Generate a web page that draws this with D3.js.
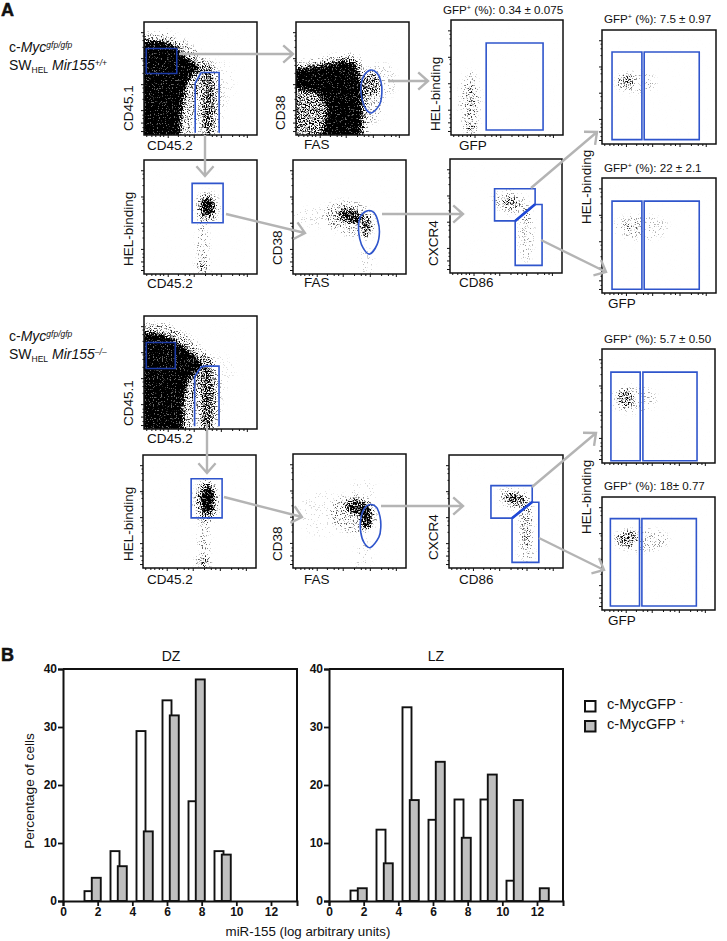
<!DOCTYPE html>
<html><head><meta charset="utf-8">
<script src="https://cdn.jsdelivr.net/npm/d3@7"></script>
<style>
html,body{margin:0;padding:0;background:#fff}
svg{display:block}
text{font-family:"Liberation Sans",Arial,sans-serif;fill:#111}
</style></head><body>
<svg id="c" width="727" height="941"></svg>
<script>
/* ---------- Panel B data ---------- */
const bins = [1.5,3,4.5,6,7.5,9,10.5,12];
const dzNegative = [1.7,8.6,29.3,34.6,17.2,8.6,0,0];
const dzPositive = [4,6,12,32,38.2,8,0,0];
const lzNegative = [1.8,12.3,33.4,14,17.5,17.5,3.5,0];
const lzPositive = [2.2,6.5,17.4,24,10.9,21.8,17.4,2.2];
const xTickValues = [0,2,4,6,8,10,12];
const yTickValues = [0,10,20,30,40];
const legendLabels = ["c-MycGFP","c-MycGFP"];

/* ---------- Flow panels: estimated density regions, axis units 0-100 ---------- */
/* polygons: [density, [x,y]...] */
const massA1 = [
 [.3,[0,0],[41,0],[45,30],[52,47],[62,60],[52,70],[38,82],[22,90],[0,90]],
 [1,[0,0],[31,0],[34,25],[37,42],[42,53],[51,58],[44,64],[34,72],[29,78],[18,83],[0,84]]];
const massA3 = [
 [.5,[0,0],[25,0],[28,25],[18,40],[0,44]],
 [.32,[0,56],[0,63],[30,69],[45,72],[56,69],[63,50],[64,20],[63,0],[55,0],[55,50],[40,60]],
 [1,[22,0],[28,25],[18,38],[0,42],[0,58],[12,60],[30,63],[42,66],[52,64],[57,50],[58,30],[58,0]]];
const massC1 = [
 [.32,[0,0],[42,0],[44,24],[50,42],[62,58],[54,68],[40,82],[20,93],[0,93]],
 [1,[0,0],[34,0],[35,24],[38,40],[45,50],[52,55],[45,65],[35,73],[26,80],[10,85],[0,85]]];
/* ellipses: [cx,cy,rx,ry,rot,density] */
const cloudA1 = [[57,27,6,32,0,.5],[56,28,13,38,0,.2],[66,45,14,22,0,.05]];
const cloudA2 = [[56,59,6,8,0,.85],[56,58,10,14,0,.33],[52,25,5,22,0,.22],[52,6,6,8,0,.26]];
const cloudA3 = [[67,44,6,10,0,.38],[67,34,11,24,0,.16],[74,48,15,16,0,.1]];
const cloudA4 = [[51,51,11,6,14,.7],[65,41,5,10,0,.5],[50,49,23,15,14,.22],[28,50,30,9,0,.07],[65,8,6,16,0,.09]];
const cloudA5 = [[18,30,5,16,0,.22],[18,7,6,5,0,.3],[17,28,9,28,0,.18]];
const cloudA6 = [[53,62,10,5,12,.34],[54,62,16,10,12,.16],[68,34,7,24,0,.15],[68,50,4,8,0,.15]];
const cloudA7 = [[21,55,7,6,0,.36],[30,54,18,9,0,.14]];
const cloudA8 = [[26,58,8,7,0,.17],[34,57,24,11,0,.12]];
const cloudC1 = [[56,26,6,32,0,.55],[55,28,13,38,0,.22],[66,50,14,16,0,.05]];
const cloudC2 = [[57,60,6,13,0,.9],[56,59,11,19,0,.35],[54,22,5,24,0,.23],[53,5,7,6,0,.26]];
const cloudC3 = [[56,53,10,7,14,.68],[65,45,5,11,0,.8],[54,47,21,17,14,.23],[62,66,12,12,0,.06],[62,8,7,20,0,.09],[25,48,20,20,0,.06]];
const cloudC4 = [[58,61,10,5,15,.5],[58,61,16,9,15,.18],[68,38,6,18,0,.3],[68,16,7,11,0,.18]];
const cloudC5 = [[21,57,7,8,0,.42],[28,56,20,12,0,.14]];
const cloudC6 = [[22,63,9,7,0,.4],[35,62,24,10,0,.17]];

/* ---------- Flow panels: gates, axis units 0-100 ---------- */
const rect = (a,b,c,d)=>[[a,c],[b,c],[b,d],[a,d]];
const gatesA1 = [rect(2,29,76.5,54.4)];
const gateTailA1 = [[45.3,2],[45.3,46],[50.6,55.3],[66.5,55.3],[66.5,2]];
const gatesA2 = [rect(42.6,70,79.5,45)];
const ovalA3 = [[65.7,57.4],[71.6,55],[75.1,47.6],[76,37.4],[74,27],[67.2,19.7],[62.1,22.6],[58.3,32.4],[57.4,43.2],[59.8,52]];
const ovalA4 = [[66,55.5],[71.5,54],[75,47],[76.5,37],[74.5,26],[68,17.5],[62.5,22],[59,31],[58,42],[60,51]];
const gatesA5 = [rect(31.4,82.2,80,4.3)];
const gatesA6 = [[[39.8,73.9],[76,73.9],[76,60.4],[58.2,45.7],[39.8,45.7]],[[58.2,45.7],[76,60.1],[82.2,60.1],[82.2,6.7],[58.2,6.7]]];
const dividerA6 = [[58.2,45.7],[76,60.2]];
const gatesA7 = [rect(8.8,35,80.7,3.8),rect(37,85.3,80.7,3.8)];
const gatesA8 = [rect(8.8,35,79.9,3.2),rect(37,85.3,79.9,3.2)];
const gatesC1 = [rect(2,27.7,76.5,53.5)];
const gateTailC1 = [[44.8,2.4],[44.8,46.2],[50.7,55],[54,55.6],[66.4,55.6],[66.4,2.4]];
const gatesC2 = [rect(42.6,70,79,44.4)];
const ovalC3 = [[68.6,55.7],[74,53],[77,45],[77.7,36],[76,27],[68.6,17.9],[63,22],[60,31],[59.8,42],[63,52]];
const gatesC4 = [[[36.8,72.9],[73,72.9],[73,58.8],[55.3,44.1],[36.8,44.1]],[[55.3,44.1],[73,58.2],[78.8,58.2],[78.8,5],[55.3,5]]];
const dividerC4 = [[55.3,44.1],[73,58.5]];
const gatesC5 = [rect(7.9,33.8,79.7,2),rect(36.2,84.1,79.7,2)];
const gatesC6 = [rect(7.4,33.2,80.9,3.5),rect(35.3,83.5,80.9,3.5)];

/* ---------- Flow axis ticks (transformed scale, axis units) ---------- */
const flowXMajor = [21,44,68,91];
const flowXMinor = [2,6.5,10,14,17,30,36,40,54,60,64,78,84,88];
const flowYMajor = [3.5,11,22,45,68,91];
const flowYMinor = [7,15,18,32,38,42,55,62,66,78,84,88];

/* ---------- Text ---------- */
const gfpHeaders = ["(%): 0.34 ± 0.075","(%): 7.5 ± 0.97","(%): 22 ± 2.1","(%): 5.7 ± 0.50","(%): 18± 0.77"];

/* ---------- Layout ---------- */
const panels = [
 {x:144,y:22,w:113,h:113,m:massA1,c:cloudA1,g:gatesA1,g2:[gateTailA1],gc:"#1c3ba8"},
 {x:144,y:160,w:113,h:114,c:cloudA2,g:gatesA2},
 {x:296,y:22,w:113,h:113,m:massA3,c:cloudA3,o:ovalA3},
 {x:293,y:160,w:113,h:114,c:cloudA4,o:ovalA4},
 {x:451,y:20,w:112,h:115,c:cloudA5,g:gatesA5},
 {x:450,y:159,w:112,h:114,c:cloudA6,g:gatesA6,d:dividerA6},
 {x:602,y:30,w:114,h:114,c:cloudA7,g:gatesA7},
 {x:602,y:178,w:114,h:115,c:cloudA8,g:gatesA8},
 {x:144,y:316,w:113,h:113,m:massC1,c:cloudC1,g:gatesC1,g2:[gateTailC1],gc:"#1c3ba8"},
 {x:143,y:455,w:113,h:113,c:cloudC2,g:gatesC2},
 {x:293,y:454,w:113,h:114,c:cloudC3,o:ovalC3},
 {x:449,y:455,w:114,h:113,c:cloudC4,g:gatesC4,d:dividerC4},
 {x:602,y:349,w:113,h:114,c:cloudC5,g:gatesC5},
 {x:602,y:497,w:113,h:113,c:cloudC6,g:gatesC6}
];
const arrows = [
 [179,54,293,54],[205,135,205,176],[226,214,305,233],[388,81,428,81],[382,214,463,214],[531,188,597,132],[541,240,606,272],
 [207,424,207,473],[224,497,302,517],[381,506,463,506],[532,487,596,433],[539,538,604,570]
];
const xLabels = [["CD45.2",147,150],["CD45.2",147,288],["FAS",304,149],["FAS",304,287],["GFP",459,150],["CD86",459,287],["GFP",608,308],
 ["CD45.2",147,443],["CD45.2",147,584],["FAS",304,584],["CD86",459,584],["GFP",608,625]];
const yLabels = [["CD45.1",132.5,131],["HEL-binding",132.5,266],["CD38",284.5,130],["CD38",282,265],["HEL-binding",440,131],["CXCR4",438,266],["HEL-binding",591,224],
 ["CD45.1",132.5,426],["HEL-binding",132.5,561],["CD38",282,561],["CXCR4",438,560],["HEL-binding",591,534]];
const headerPos = [[443,14],[604,23],[604,172],[604,343],[604,490]];

const svg = d3.select("#c");
const defs = svg.append("defs");
const BLUE = "#2f55cc";

/* speckle texture: a rendering filter that turns each cloud's blurred alpha into grain */
function speckle(id,p,seed){
  const f = defs.append("filter").attr("id",id).attr("filterUnits","userSpaceOnUse")
    .attr("x",p.x).attr("y",p.y).attr("width",p.w).attr("height",p.h)
    .attr("color-interpolation-filters","sRGB");
  f.append("feGaussianBlur").attr("in","SourceAlpha").attr("stdDeviation",2.2).attr("result","b");
  f.append("feTurbulence").attr("type","fractalNoise").attr("baseFrequency",0.77).attr("numOctaves",3).attr("seed",seed).attr("result","t");
  f.append("feColorMatrix").attr("in","t").attr("type","matrix").attr("values","0 0 0 0 0  0 0 0 0 0  0 0 0 0 0  2.6 0 0 0 -0.8").attr("result","n");
  f.append("feComposite").attr("in","b").attr("in2","n").attr("operator","arithmetic").attr("k1",0).attr("k2",1.3).attr("k3",1).attr("k4",-1).attr("result","m");
  const ct = f.append("feComponentTransfer").attr("in","m").attr("result","h");
  ct.append("feFuncA").attr("type","linear").attr("slope",2).attr("intercept",0);
  f.append("feFlood").attr("flood-color","#000").attr("result","k");
  f.append("feComposite").attr("in","k").attr("in2","h").attr("operator","in").attr("result","s");
  f.append("feGaussianBlur").attr("in","s").attr("stdDeviation",0.35);
}

panels.forEach((p,i)=>{
  const sx = d3.scaleLinear().domain([0,100]).range([p.x,p.x+p.w]);
  const sy = d3.scaleLinear().domain([0,100]).range([p.y+p.h,p.y]);
  const rx = d3.scaleLinear().domain([0,100]).range([0,p.w]);
  const ry = d3.scaleLinear().domain([0,100]).range([0,p.h]);
  const id = "sp"+i;
  speckle(id,p,i+3);
  const cid = "cl"+i;
  defs.append("clipPath").attr("id",cid).append("rect").attr("x",p.x).attr("y",p.y).attr("width",p.w).attr("height",p.h);

  const line = d3.line().x(d=>sx(d[0])).y(d=>sy(d[1]));
  const wrap = svg.append("g").attr("clip-path",`url(#${cid})`);
  const cg = wrap.append("g").attr("filter",`url(#${id})`);
  /* a transparent pad keeps the filter region filled */
  cg.append("rect").attr("x",p.x).attr("y",p.y).attr("width",p.w).attr("height",p.h).attr("fill","#000").attr("fill-opacity",0.004);
  cg.selectAll("ellipse").data(p.c).join("ellipse")
    .attr("transform",d=>`translate(${sx(d[0])},${sy(d[1])}) rotate(${d[4]})`)
    .attr("rx",d=>rx(d[2])).attr("ry",d=>ry(d[3]))
    .attr("fill","#000").attr("fill-opacity",d=>d[5]);
  cg.selectAll("path").data(p.m||[]).join("path")
    .attr("d",d=>{
      /* extend edge points beyond the frame so blur does not fade the plot border */
      const pts = d.slice(1).map(q=>[q[0]<=0?-8:q[0], q[1]<=0?-8:q[1]]);
      return line(pts)+"Z";
    })
    .attr("fill","#000").attr("fill-opacity",d=>d[0]);

  const gate = svg.append("g").attr("fill","none").attr("stroke",BLUE).attr("stroke-width",1.6);
  (p.g||[]).forEach(g=>gate.append("path").attr("stroke",p.gc||BLUE).attr("d",line(g)+"Z"));
  (p.g2||[]).forEach(g=>gate.append("path").attr("d",line(g)));
  if(p.o) gate.append("path").attr("stroke-width",1.6).attr("d",d3.line().x(d=>sx(d[0])).y(d=>sy(d[1])).curve(d3.curveCardinalClosed)(p.o));
  if(p.d) gate.append("path").attr("stroke-width",2.6).attr("stroke","#1f48d6").attr("d",line(p.d));

  svg.append("rect").attr("x",p.x).attr("y",p.y).attr("width",p.w).attr("height",p.h)
    .attr("fill","none").attr("stroke","#111").attr("stroke-width",1.5);

  const styleAxis = g=>{g.select(".domain").remove();g.selectAll("line").attr("stroke","#111").attr("stroke-width",1);g.selectAll("text").remove();};
  svg.append("g").attr("transform",`translate(0,${p.y+p.h})`).call(d3.axisBottom(sx).tickValues(flowXMajor).tickSize(3)).call(styleAxis);
  svg.append("g").attr("transform",`translate(0,${p.y+p.h})`).call(d3.axisBottom(sx).tickValues(flowXMinor).tickSize(2)).call(styleAxis);
  svg.append("g").attr("transform",`translate(${p.x},0)`).call(d3.axisLeft(sy).tickValues(flowYMajor).tickSize(3)).call(styleAxis);
  svg.append("g").attr("transform",`translate(${p.x},0)`).call(d3.axisLeft(sy).tickValues(flowYMinor).tickSize(1.5)).call(styleAxis);
});

/* arrows */
const ag = svg.append("g").attr("fill","none").attr("stroke","#b4b4b4").attr("stroke-width",2.4);
ag.selectAll("path").data(arrows).join("path").attr("d",a=>{
  const [x1,y1,x2,y2]=a, t=Math.atan2(y2-y1,x2-x1), L=13, H=0.72;
  const hx=s=>x2-L*Math.cos(t+s*H), hy=s=>y2-L*Math.sin(t+s*H);
  return `M${x1},${y1}L${x2},${y2}M${hx(1)},${hy(1)}L${x2},${y2}L${hx(-1)},${hy(-1)}`;
});

/* flow labels */
const fs = 13.5;
svg.append("g").selectAll("text").data(xLabels).join("text").attr("x",d=>d[1]).attr("y",d=>d[2]).attr("font-size",fs).text(d=>d[0]);
svg.append("g").selectAll("text").data(yLabels).join("text")
  .attr("transform",d=>`translate(${d[1]},${d[2]}) rotate(-90)`).attr("font-size",fs).text(d=>d[0]);

function sup(sel,txt,sz){sel.append("tspan").attr("dy",-sz*0.38).attr("font-size",sz*0.62).text(txt);}
gfpHeaders.forEach((t,i)=>{
  const s = svg.append("text").attr("x",headerPos[i][0]).attr("y",headerPos[i][1]).attr("font-size",11.6);
  s.append("tspan").text("GFP");
  sup(s,"+",11.6);
  s.append("tspan").attr("dy",11.6*0.38).text(" "+t);
});

function genotype(y,tail){
  const a = svg.append("text").attr("x",9).attr("y",y).attr("font-size",14);
  a.append("tspan").text("c-");
  a.append("tspan").attr("font-style","italic").text("Myc");
  a.append("tspan").attr("font-style","italic").attr("font-size",8.5).attr("dy",-4).text("gfp/gfp");
  const b = svg.append("text").attr("x",9).attr("y",y+17.5).attr("font-size",14);
  b.append("tspan").text("SW");
  b.append("tspan").attr("font-size",8.5).attr("dy",3).text("HEL");
  b.append("tspan").attr("font-style","italic").attr("dy",-3).text(" Mir155");
  b.append("tspan").attr("font-style","italic").attr("font-size",8.5).attr("dy",-4).text(tail);
}
genotype(52,"+/+");
genotype(341,"–/–");

svg.append("text").attr("x",1).attr("y",16).attr("font-size",18).attr("font-weight","bold").style("stroke","#111").style("stroke-width",.5).text("A");
svg.append("text").attr("x",1).attr("y",661).attr("font-size",18).attr("font-weight","bold").style("stroke","#111").style("stroke-width",.5).text("B");

/* ---------- Panel B ---------- */
function histogram(x0,x1,titleX,title,neg,pos){
  const x = d3.scaleLinear().domain([0,13.5]).range([x0,x1]);
  const y = d3.scaleLinear().domain([0,40]).range([901,669]);
  const bw = 9;
  const g = svg.append("g");
  const rows = bins.map((b,i)=>({b,neg:neg[i],pos:pos[i]}));
  const barStyle = s=>s.attr("width",bw).attr("stroke","#111").attr("stroke-width",1.9);
  g.selectAll(".n").data(rows.filter(d=>d.neg>0)).join("rect").attr("class","n")
    .attr("x",d=>x(d.b)-bw/2).attr("y",d=>y(d.neg)).attr("height",d=>y(0)-y(d.neg)).attr("fill","#fff").call(barStyle);
  g.selectAll(".p").data(rows.filter(d=>d.pos>0)).join("rect").attr("class","p")
    .attr("x",d=>x(d.b+0.42)-bw/2).attr("y",d=>y(d.pos)).attr("height",d=>y(0)-y(d.pos)).attr("fill","#bfbfbf").call(barStyle);

  g.append("path").attr("d",`M${x0},${y(40)}H${x1}V${y(0)}`).attr("fill","none").attr("stroke","#111").attr("stroke-width",2);
  const ax = g.append("g").attr("transform",`translate(0,${y(0)})`).call(d3.axisBottom(x).tickValues(xTickValues).tickSize(5).tickPadding(1));
  const ay = g.append("g").attr("transform",`translate(${x0},0)`).call(d3.axisLeft(y).tickValues(yTickValues).tickSize(5).tickPadding(1));
  [ax,ay].forEach(a=>{
    a.select(".domain").attr("stroke","#111").attr("stroke-width",2);
    a.selectAll("line").attr("stroke","#111").attr("stroke-width",1.8);
    a.selectAll("text").attr("font-family",'"Liberation Sans",sans-serif').attr("font-weight","bold").attr("font-size",12).attr("fill","#111");
  });
  g.append("text").attr("x",titleX).attr("y",661).attr("text-anchor","middle").attr("font-size",14).text(title);
}
histogram(63,297,171,"DZ",dzNegative,dzPositive);
histogram(329,563,436,"LZ",lzNegative,lzPositive);

svg.append("text").attr("transform","translate(34,791) rotate(-90)").attr("text-anchor","middle").attr("font-size",13.6).text("Percentage of cells");
svg.append("text").attr("x",308).attr("y",936).attr("text-anchor","middle").attr("font-size",13.3).text("miR-155 (log arbitrary units)");

const legendFill = ["#fff","#bfbfbf"], legendMark = ["-","+"];
legendLabels.forEach((t,i)=>{
  const ly = 701+i*20;
  svg.append("rect").attr("x",585).attr("y",ly).attr("width",10.5).attr("height",10.5).attr("fill",legendFill[i]).attr("stroke","#111").attr("stroke-width",2);
  const s = svg.append("text").attr("x",607).attr("y",ly+8).attr("font-size",14.6);
  s.append("tspan").text(t+" ");
  s.append("tspan").attr("dy",-4).attr("font-size",9).text(legendMark[i]);
});
</script>
</body></html>
